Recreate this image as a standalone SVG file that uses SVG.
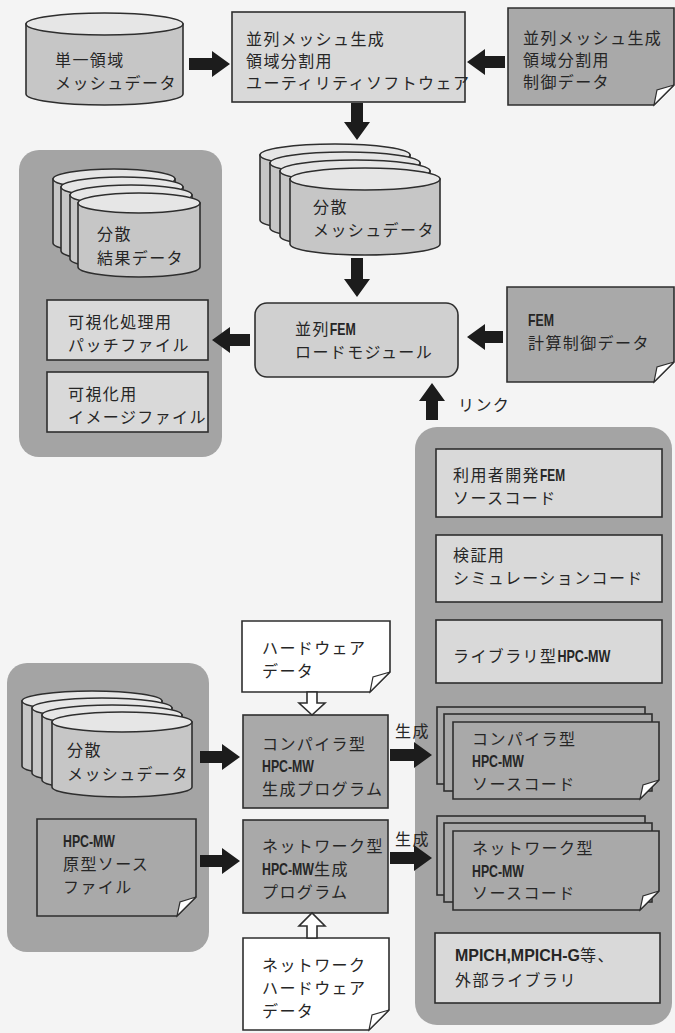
<svg xmlns="http://www.w3.org/2000/svg" width="675" height="1033" viewBox="0 0 675 1033">
<defs>
<style>
.t{font-family:"Noto Sans CJK JP","Noto Sans CJK SC",sans-serif;font-size:16px;letter-spacing:1.4px;fill:#262626}
.lat{font-family:"Liberation Sans Narrow","Liberation Sans","Noto Sans CJK JP",sans-serif;font-weight:bold;font-size:17px;letter-spacing:0}
.s{stroke:#2e2e2e;stroke-width:1.6}
.panel{fill:#a4a4a4}
.light{fill:#d9d9d9}
.mid{fill:#a9a9a9}
.load{fill:#d0d0d0}
.body{fill:#c6c6c6}
.top{fill:#e6e6e6}
.white{fill:#ffffff}
.fold{fill:#ffffff;stroke:#2e2e2e;stroke-width:1.2}
.arr{fill:#1c1c1c}
.hol{fill:#ffffff;stroke:#2e2e2e;stroke-width:1.6}
</style>
</defs>
<rect x="0" y="0" width="675" height="1033" fill="#f4f4f4"/>

<!-- panels -->
<g id="panel-results"><rect class="panel" x="19" y="150" width="203" height="307" rx="20"/></g>
<g id="panel-sources"><rect class="panel" x="415" y="427" width="257" height="598" rx="22"/></g>
<g id="panel-inputs"><rect class="panel" x="7" y="663" width="202" height="289" rx="20"/></g>

<!-- top cylinder -->
<g id="single-mesh">
<path class="body s" d="M26,24 V94 A78.5,11 0 0 0 183,94 V24 Z"/>
<ellipse class="top s" cx="104.5" cy="24" rx="78.5" ry="11"/>
<text class="t" x="55" y="66">単一領域</text>
<text class="t" x="55" y="89">メッシュデータ</text>
</g>

<g id="partition-utility">
<rect class="light s" x="232" y="12" width="233" height="90"/>
<text class="t" x="246" y="45">並列メッシュ生成</text>
<text class="t" x="246" y="67">領域分割用</text>
<text class="t" x="246" y="89">ユーティリティソフトウェア</text>
</g>

<g id="partition-control">
<path class="mid s" d="M508,8 H674 V85 L654,105 H508 Z"/>
<path class="fold" d="M674,85 L654,105 L657,90 Z"/>
<text class="t" x="523" y="44">並列メッシュ生成</text>
<text class="t" x="523" y="66">領域分割用</text>
<text class="t" x="523" y="88">制御データ</text>
</g>

<!-- distributed mesh (top) -->
<g id="dist-mesh-top">
<path class="body s" d="M260,155 V220 A75,11 0 0 0 410,220 V155 Z"/>
<ellipse class="top s" cx="335" cy="155" rx="75" ry="11"/>
<path class="body s" d="M270,163 V228 A75,11 0 0 0 420,228 V163 Z"/>
<ellipse class="top s" cx="345" cy="163" rx="75" ry="11"/>
<path class="body s" d="M280,171 V236 A75,11 0 0 0 430,236 V171 Z"/>
<ellipse class="top s" cx="355" cy="171" rx="75" ry="11"/>
<path class="body s" d="M290,179 V244 A75,11 0 0 0 440,244 V179 Z"/>
<ellipse class="top s" cx="365" cy="179" rx="75" ry="11"/>
<text class="t" x="313" y="213">分散</text>
<text class="t" x="313" y="236">メッシュデータ</text>
</g>

<!-- results stack -->
<g id="dist-results">
<path class="body s" d="M53,179 V243 A61,10 0 0 0 175,243 V179 Z"/>
<ellipse class="top s" cx="114" cy="179" rx="61" ry="10"/>
<path class="body s" d="M61,187 V251 A61,10 0 0 0 183,251 V187 Z"/>
<ellipse class="top s" cx="122" cy="187" rx="61" ry="10"/>
<path class="body s" d="M70,195 V259 A61,10 0 0 0 192,259 V195 Z"/>
<ellipse class="top s" cx="131" cy="195" rx="61" ry="10"/>
<path class="body s" d="M78,203 V267 A61,10 0 0 0 200,267 V203 Z"/>
<ellipse class="top s" cx="139" cy="203" rx="61" ry="10"/>
<text class="t" x="97" y="240">分散</text>
<text class="t" x="97" y="264">結果データ</text>
</g>

<g id="patch-file">
<rect class="light s" x="47" y="300" width="161" height="60"/>
<text class="t" x="68" y="328">可視化処理用</text>
<text class="t" x="68" y="351">パッチファイル</text>
</g>

<g id="image-file">
<rect class="light s" x="47" y="372" width="161" height="60"/>
<text class="t" x="68" y="400">可視化用</text>
<text class="t" x="68" y="423">イメージファイル</text>
</g>

<g id="fem-load-module">
<rect class="load s" x="255" y="303" width="203" height="74" rx="12"/>
<text class="t" x="295" y="335">並列<tspan class="lat" textLength="26" lengthAdjust="spacingAndGlyphs">FEM</tspan></text>
<text class="t" x="295" y="358">ロードモジュール</text>
</g>

<g id="fem-control">
<path class="mid s" d="M507,287 H674 V362 L654,382 H507 Z"/>
<path class="fold" d="M674,362 L654,382 L657,367 Z"/>
<text class="t lat" x="528" y="326" textLength="26" lengthAdjust="spacingAndGlyphs">FEM</text>
<text class="t" x="528" y="349">計算制御データ</text>
</g>

<!-- right panel contents -->
<g id="user-fem">
<rect class="light s" x="436" y="449" width="226" height="68"/>
<text class="t" x="453" y="481">利用者開発<tspan class="lat" textLength="25" lengthAdjust="spacingAndGlyphs">FEM</tspan></text>
<text class="t" x="453" y="504">ソースコード</text>
</g>

<g id="verify-code">
<rect class="light s" x="436" y="535" width="226" height="67"/>
<text class="t" x="453" y="561">検証用</text>
<text class="t" x="453" y="584">シミュレーションコード</text>
</g>

<g id="library-hpcmw">
<rect class="light s" x="436" y="620" width="226" height="63"/>
<text class="t" x="453" y="662">ライブラリ型<tspan class="lat" textLength="53" lengthAdjust="spacingAndGlyphs">HPC-MW</tspan></text>
</g>

<g id="compiler-source">
<rect class="mid s" x="437" y="707" width="208" height="77"/>
<rect class="mid s" x="444" y="714" width="208" height="77"/>
<path class="mid s" d="M453,722 H659 V780 L640,799 H453 Z"/>
<path class="fold" d="M659,780 L640,799 L643,785 Z"/>
<text class="t" x="472" y="745">コンパイラ型</text>
<text class="t lat" x="472" y="767" textLength="52" lengthAdjust="spacingAndGlyphs">HPC-MW</text>
<text class="t" x="472" y="790">ソースコード</text>
</g>

<g id="network-source">
<rect class="mid s" x="437" y="816" width="208" height="79"/>
<rect class="mid s" x="444" y="823" width="208" height="79"/>
<path class="mid s" d="M453,831 H659 V891 L640,910 H453 Z"/>
<path class="fold" d="M659,891 L640,910 L643,896 Z"/>
<text class="t" x="472" y="854">ネットワーク型</text>
<text class="t lat" x="472" y="877" textLength="52" lengthAdjust="spacingAndGlyphs">HPC-MW</text>
<text class="t" x="472" y="899">ソースコード</text>
</g>

<g id="mpich">
<rect class="light s" x="435" y="933" width="225" height="70"/>
<text class="t" x="455" y="961"><tspan class="lat" textLength="125" lengthAdjust="spacingAndGlyphs">MPICH,MPICH-G</tspan>等、</text>
<text class="t" x="455" y="986">外部ライブラリ</text>
</g>

<!-- bottom-left panel contents -->
<g id="dist-mesh-bottom">
<path class="body s" d="M22,701 V766 A70,10 0 0 0 162,766 V701 Z"/>
<ellipse class="top s" cx="92" cy="701" rx="70" ry="10"/>
<path class="body s" d="M32,708 V773 A70,10 0 0 0 172,773 V708 Z"/>
<ellipse class="top s" cx="102" cy="708" rx="70" ry="10"/>
<path class="body s" d="M42,715 V780 A70,10 0 0 0 182,780 V715 Z"/>
<ellipse class="top s" cx="112" cy="715" rx="70" ry="10"/>
<path class="body s" d="M52,722 V787 A70,10 0 0 0 192,787 V722 Z"/>
<ellipse class="top s" cx="122" cy="722" rx="70" ry="10"/>
<text class="t" x="67" y="756">分散</text>
<text class="t" x="67" y="780">メッシュデータ</text>
</g>

<g id="hpcmw-template">
<path class="mid s" d="M37,819 H196 V897 L177,916 H37 Z"/>
<path class="fold" d="M196,897 L177,916 L180,902 Z"/>
<text class="t lat" x="63" y="847" textLength="52" lengthAdjust="spacingAndGlyphs">HPC-MW</text>
<text class="t" x="63" y="870">原型ソース</text>
<text class="t" x="63" y="893">ファイル</text>
</g>

<g id="hardware-data">
<path class="white s" d="M242,621 H390 V672 L370,692 H242 Z"/>
<path class="fold" d="M390,672 L370,692 L373,677 Z"/>
<text class="t" x="262" y="654">ハードウェア</text>
<text class="t" x="262" y="677">データ</text>
</g>

<g id="compiler-generator">
<rect class="mid s" x="243" y="715" width="145" height="93"/>
<text class="t" x="262" y="750">コンパイラ型</text>
<text class="t lat" x="262" y="772" textLength="52" lengthAdjust="spacingAndGlyphs">HPC-MW</text>
<text class="t" x="262" y="795">生成プログラム</text>
</g>

<g id="network-generator">
<rect class="mid s" x="243" y="820" width="145" height="93"/>
<text class="t" x="262" y="852">ネットワーク型</text>
<text class="t" x="262" y="875"><tspan class="lat" textLength="52" lengthAdjust="spacingAndGlyphs">HPC-MW</tspan>生成</text>
<text class="t" x="262" y="898">プログラム</text>
</g>

<g id="network-hardware-data">
<path class="white s" d="M243,938 H389 V1010 L369,1030 H243 Z"/>
<path class="fold" d="M389,1010 L369,1030 L372,1015 Z"/>
<text class="t" x="262" y="971">ネットワーク</text>
<text class="t" x="262" y="994">ハードウェア</text>
<text class="t" x="262" y="1017">データ</text>
</g>

<!-- connectors -->
<g id="connectors">
<polygon class="arr" points="189,58 212,58 212,51 230,64 212,77 212,70 189,70"/>
<polygon class="arr" points="505,56 485,56 485,49 467,62 485,75 485,68 505,68"/>
<polygon class="arr" points="351,103 363,103 363,122 370,122 357,140 344,122 351,122"/>
<polygon class="arr" points="351,258 363,258 363,279 370,279 357,297 344,279 351,279"/>
<polygon class="arr" points="503,331 485,331 485,324 467,337 485,350 485,343 503,343"/>
<polygon class="arr" points="250,334 230,334 230,327 212,340 230,353 230,346 250,346"/>
<polygon class="arr" points="426,420 438,420 438,401 445,401 432,383 419,401 426,401"/>
<text class="t" x="458" y="411">リンク</text>
<polygon class="arr" points="200,751 222,751 222,744 240,757 222,770 222,763 200,763"/>
<polygon class="arr" points="200,855 222,855 222,848 240,861 222,874 222,867 200,867"/>
<polygon class="arr" points="390,749 414,749 414,742 432,755 414,768 414,761 390,761"/>
<polygon class="arr" points="390,852 414,852 414,845 432,858 414,871 414,864 390,864"/>
<text class="t" x="395" y="737">生成</text>
<text class="t" x="395" y="845">生成</text>
<polygon class="hol" points="307,692 317,692 317,703 325,703 312,715 299,703 307,703"/>
<polygon class="hol" points="307,938 317,938 317,926 325,926 312,913 299,926 307,926"/>
</g>
</svg>
